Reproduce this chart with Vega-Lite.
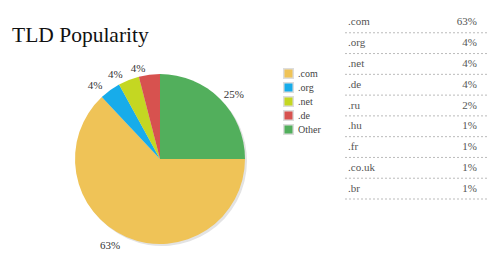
{
  "$schema": "https://vega.github.io/schema/vega-lite/v6.json",
  "padding": {"left": 12, "top": 12, "right": 0, "bottom": 0},
  "background": "white",
  "spacing": 96,
  "config": {"view": {"stroke": null}, "font": "Liberation Serif, DejaVu Serif, serif"},
  "datasets": {
    "share": [
      {"tld": "Other", "share": 0.25, "ord": 1},
      {"tld": ".com", "share": 0.63, "ord": 2},
      {"tld": ".org", "share": 0.04, "ord": 3},
      {"tld": ".net", "share": 0.04, "ord": 4},
      {"tld": ".de", "share": 0.04, "ord": 5}
    ],
    "table": [
      {"tld": ".com", "pct": "63%", "row": 1},
      {"tld": ".org", "pct": "4%", "row": 2},
      {"tld": ".net", "pct": "4%", "row": 3},
      {"tld": ".de", "pct": "4%", "row": 4},
      {"tld": ".ru", "pct": "2%", "row": 5},
      {"tld": ".hu", "pct": "1%", "row": 6},
      {"tld": ".fr", "pct": "1%", "row": 7},
      {"tld": ".co.uk", "pct": "1%", "row": 8},
      {"tld": ".br", "pct": "1%", "row": 9}
    ]
  },
  "hconcat": [
    {
      "width": 170,
      "height": 294,
      "data": {"name": "share"},
      "title": {
        "text": "TLD Popularity",
        "anchor": "start",
        "dx": -63,
        "fontSize": 21.5,
        "font": "Liberation Serif, DejaVu Serif, serif",
        "fontWeight": "normal",
        "color": "#111111",
        "baseline": "alphabetic",
        "offset": -51
      },
      "encoding": {
        "theta": {"field": "share", "type": "quantitative", "stack": true},
        "order": {"field": "ord", "type": "quantitative"}
      },
      "layer": [
        {
          "mark": {"type": "arc", "radius": 85, "xOffset": 2, "yOffset": 2, "color": "#e3e3e3"}
        },
        {
          "mark": {"type": "arc", "radius": 85},
          "encoding": {
            "color": {
              "field": "tld",
              "type": "nominal",
              "scale": {
                "domain": [".com", ".org", ".net", ".de", "Other"],
                "range": ["#EFC357", "#17ACEA", "#C4D722", "#D7524F", "#52AF5C"]
              },
              "legend": {
                "orient": "none",
                "legendX": 208,
                "legendY": 56,
                "title": null,
                "symbolType": "square",
                "symbolSize": 90,
                "symbolStrokeColor": "#dddddd",
                "symbolStrokeWidth": 1.5,
                "labelFont": "Liberation Serif, DejaVu Serif, serif",
                "labelFontSize": 10,
                "labelColor": "#444444",
                "rowPadding": -4.3,
                "labelOffset": 4
              }
            }
          }
        },
        {
          "mark": {"type": "text", "radius": 90, "align": "left", "baseline": "middle", "fontSize": 11, "color": "#333333"},
          "encoding": {
            "text": {"condition": {"test": "datum.tld === 'Other'", "field": "share", "format": ".0%"}, "value": ""}
          }
        },
        {
          "mark": {"type": "text", "radius": 93, "align": "right", "baseline": "middle", "dx": -3, "dy": 2, "fontSize": 11, "color": "#333333"},
          "encoding": {
            "text": {"condition": {"test": "datum.tld !== 'Other'", "field": "share", "format": ".0%"}, "value": ""}
          }
        }
      ]
    },
    {
      "width": 143,
      "height": 187,
      "data": {"name": "table"},
      "encoding": {
        "y": {"field": "tld", "type": "nominal", "sort": {"field": "row", "op": "min"}, "scale": {"type": "band", "paddingInner": 0, "paddingOuter": 0}, "axis": null}
      },
      "layer": [
        {
          "mark": {"type": "rule", "strokeDash": [2, 2], "color": "#bbbbbb", "strokeWidth": 1},
          "encoding": {
            "y": {"field": "tld", "type": "nominal", "sort": {"field": "row", "op": "min"}, "bandPosition": 1, "axis": null}
          }
        },
        {
          "mark": {"type": "text", "align": "left", "baseline": "middle", "dx": 4, "fontSize": 11, "color": "#555555"},
          "encoding": {
            "x": {"datum": "name", "type": "nominal", "scale": {"type": "point", "domain": ["name", "pct"], "padding": 0}, "axis": null},
            "text": {"field": "tld"}
          }
        },
        {
          "mark": {"type": "text", "align": "right", "baseline": "middle", "dx": -10, "fontSize": 11, "color": "#555555"},
          "encoding": {
            "x": {"datum": "pct", "type": "nominal", "axis": null},
            "text": {"field": "pct"}
          }
        }
      ]
    }
  ]
}
